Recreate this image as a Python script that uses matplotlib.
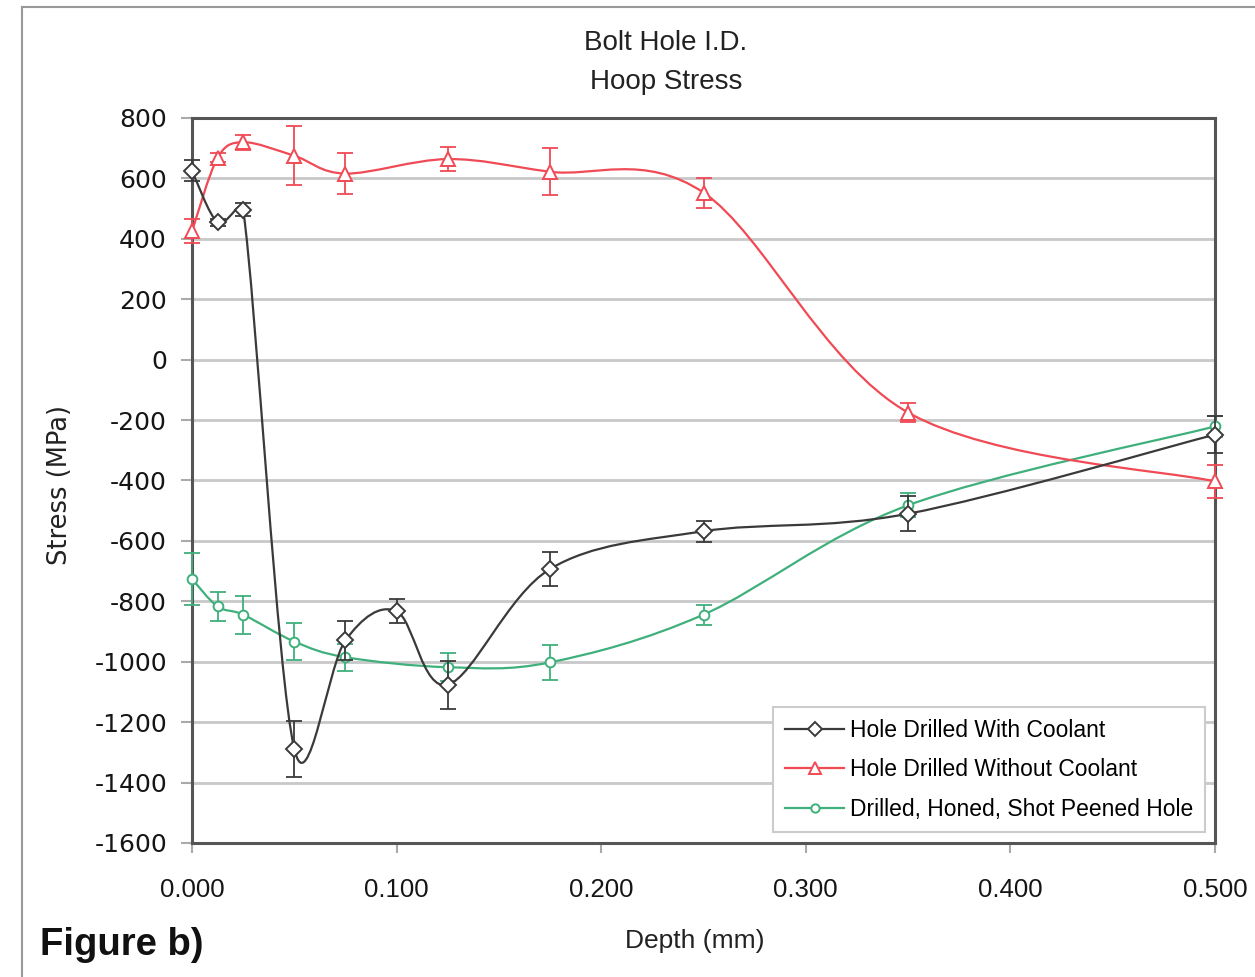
import numpy as np
import matplotlib
matplotlib.use("Agg")
import matplotlib.pyplot as plt
from matplotlib.path import Path
from matplotlib.patches import PathPatch
from matplotlib.lines import Line2D

# data (depth in mm, stress in MPa)
depth_cool = [0.0, 0.0125, 0.025, 0.05, 0.075, 0.1, 0.125, 0.175, 0.25, 0.35, 0.5]
stress_cool = [625, 455, 497, -1289, -929, -833, -1076, -693, -568, -510, -248]
err_cool = [35, 12, 20, 94, 65, 40, 80, 57, 35, 58, 60]

depth_dry = [0.0, 0.0125, 0.025, 0.05, 0.075, 0.125, 0.175, 0.25, 0.35, 0.5]
stress_dry = [425, 668, 720, 675, 616, 664, 622, 553, -175, -403]
err_dry = [40, 15, 25, 98, 67, 41, 78, 50, 33, 55]

depth_peen = [0.0, 0.0125, 0.025, 0.05, 0.075, 0.125, 0.175, 0.25, 0.35, 0.5]
stress_peen = [-726, -817, -844, -933, -985, -1018, -1002, -844, -482, -221]
err_peen = [85, 47, 63, 60, 45, 47, 58, 33, 40, 35]

labels = ["Hole Drilled With Coolant", "Hole Drilled Without Coolant",
          "Drilled, Honed, Shot Peened Hole"]
colors = ["#3a3a3a", "#f04a55", "#3fb07c"]
markers = ["D", "^", "o"]
msizes = [8, 9.5, 7]

y_ticks = list(range(-1600, 801, 200))
x_ticks = [0.0, 0.1, 0.2, 0.3, 0.4, 0.5]


def smooth_path(ax, x, y):
    # excel style smoothed line, bezier control arms capped at half the segment (pixel space)
    pts = ax.transData.transform(np.column_stack([x, y]))
    ext = np.vstack([pts[0], pts, pts[-1]])
    verts = [pts[0]]
    codes = [Path.MOVETO]
    for i in range(len(pts) - 1):
        p0, p1, p2, p3 = ext[i], ext[i + 1], ext[i + 2], ext[i + 3]
        d12 = np.hypot(*(p2 - p1))
        d02 = np.hypot(*(p2 - p0))
        d13 = np.hypot(*(p3 - p1))
        f0 = 1 / 6 if d02 / 6 < d12 / 2 else d12 / 2 / d02
        f1 = 1 / 6 if d13 / 6 < d12 / 2 else d12 / 2 / d13
        verts += [p1 + f0 * (p2 - p0), p2 - f1 * (p3 - p1), p2]
        codes += [Path.CURVE4] * 3
    verts = ax.transData.inverted().transform(np.array(verts))
    return Path(verts, codes)


fig = plt.figure(figsize=(12.55, 9.77), dpi=100)
ax = fig.add_axes([192 / 1255, 1 - 843 / 977, (1215 - 192) / 1255, (843 - 118) / 977])
ax.set_xlim(0, 0.5)
ax.set_ylim(-1600, 800)

series = [(depth_peen, stress_peen, err_peen, 2),
          (depth_dry, stress_dry, err_dry, 1),
          (depth_cool, stress_cool, err_cool, 0)]
for k, (x, y, e, i) in enumerate(series):
    z = 3 + k
    ax.add_patch(PathPatch(smooth_path(ax, x, y), fill=False, edgecolor=colors[i],
                           lw=1.6, zorder=z))
    eb = ax.errorbar(x, y, yerr=e, fmt="none", ecolor=colors[i], elinewidth=1.3,
                     capsize=6, capthick=1.3, zorder=z)
    for art in eb.lines[1] + eb.lines[2]:
        art.set_clip_on(False)
    ax.plot(x, y, ls="none", marker=markers[i], ms=msizes[i], mfc="white",
            mec=colors[i], mew=1.4, zorder=z + 0.5, clip_on=False)

ax.set_yticks(y_ticks)
ax.set_xticks(x_ticks)
ax.set_xticklabels(["%.3f" % v for v in x_ticks], family="Liberation Sans", fontsize=18.5)
ax.set_yticklabels([str(v) for v in y_ticks], family="DejaVu Sans", fontsize=18)
ax.tick_params(axis="y", length=8, width=1.5, color="#aaaaaa", pad=10, labelcolor="#151515")
ax.tick_params(axis="x", length=7, width=1.5, color="#aaaaaa", pad=18, labelcolor="#151515")
ax.yaxis.grid(True, color="#c8c8c8", lw=2)
ax.set_axisbelow(True)
for s in ax.spines.values():
    s.set_color("#555555")
    s.set_linewidth(2.2)

handles = [Line2D([], [], color=colors[i], lw=1.6, marker=markers[i], ms=msizes[i] - 1,
                  mfc="white", mec=colors[i], mew=1.4) for i in range(3)]
leg = ax.legend(handles, labels, loc="lower right", bbox_to_anchor=(0.99, 0.015),
                borderaxespad=0, fancybox=False, edgecolor="#cccccc", framealpha=1,
                prop={"family": "Liberation Sans", "size": 16.5},
                handlelength=2.6, labelspacing=0.72, handletextpad=0.25, borderpad=0.5)
leg.get_frame().set_linewidth(1.5)

fig.text(666 / 1255, 1 - 43 / 977, "Bolt Hole I.D.", ha="center", va="center",
         family="Liberation Sans", fontsize=20, color="#222222")
fig.text(666 / 1255, 1 - 82 / 977, "Hoop Stress", ha="center", va="center",
         family="Liberation Sans", fontsize=20, color="#222222")
fig.text(695 / 1255, 1 - 941 / 977, "Depth (mm)", ha="center", va="center",
         family="Liberation Sans", fontsize=19, color="#222222")
fig.text(60 / 1255, 1 - 485 / 977, "Stress (MPa)", ha="center", va="center", rotation=90,
         family="DejaVu Sans", fontsize=18.5, color="#222222")
fig.text(40 / 1255, 1 - 945 / 977, "Figure b)", ha="left", va="center", fontweight="bold",
         family="Liberation Sans", fontsize=27.5, color="#111111")

# outer frame of the original figure
fig.add_artist(Line2D([22 / 1255, 1], [1 - 7 / 977, 1 - 7 / 977], transform=fig.transFigure,
                      color="#999999", lw=1.5))
fig.add_artist(Line2D([22 / 1255, 22 / 1255], [0, 1 - 7 / 977], transform=fig.transFigure,
                      color="#999999", lw=1.5))

fig.savefig("out.png", dpi=100)
